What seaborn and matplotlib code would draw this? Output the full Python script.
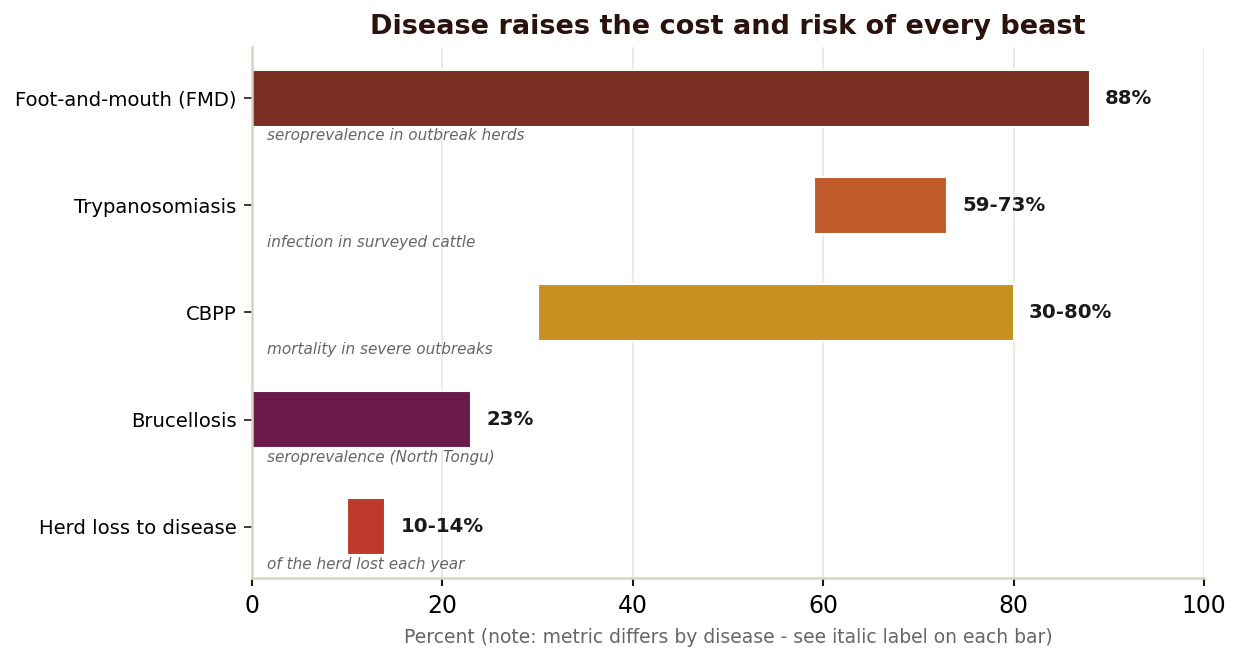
import matplotlib
matplotlib.use("Agg")
import matplotlib.pyplot as plt
import seaborn as sns
import pandas as pd

categories = ["Foot-and-mouth (FMD)", "Trypanosomiasis", "CBPP", "Brucellosis", "Herd loss to disease"]
low = [0, 59, 30, 0, 10]
high = [88, 73, 80, 23, 14]
value_labels = ["88%", "59-73%", "30-80%", "23%", "10-14%"]
notes = ["seroprevalence in outbreak herds", "infection in surveyed cattle",
         "mortality in severe outbreaks", "seroprevalence (North Tongu)",
         "of the herd lost each year"]
colors = ["#7B2E22", "#BF5A2B", "#C89020", "#6A1B4A", "#BE3A2B"]
xticks = [0, 20, 40, 60, 80, 100]

df = pd.DataFrame({"cat": categories, "low": low, "high": high})
df["span"] = df["high"] - df["low"]

sns.set_style("white")
fig = plt.figure(figsize=(8.28, 4.387), dpi=150)
ax = fig.add_axes([0.2029, 0.1216, 0.7665, 0.8070])

sns.barplot(data=df, x="span", y="cat", hue="cat", palette=colors, orient="h",
            width=0.53, legend=False, ax=ax, zorder=2, saturation=1)

for patch, lo in zip(ax.patches, low):
    patch.set_x(lo)

for i, (hi, lab, note) in enumerate(zip(high, value_labels, notes)):
    ax.text(hi + 1.6, i, lab, va="center", ha="left", fontsize=9.5,
            fontweight="bold", color="#1a1a1a")
    ax.text(1.6, i + 0.35, note, va="center", ha="left", fontsize=7.35,
            style="italic", color="#666666")

ax.set_xlim(0, 100)
ax.set_ylim(4.48, -0.48)
ax.set_xticks(xticks)
ax.tick_params(axis="x", labelsize=11.3, length=4, width=1, color="#1a1a1a",
               labelcolor="black", bottom=True)
ax.tick_params(axis="y", labelsize=9.4, length=4, width=0.8, color="#1a1a1a",
               labelcolor="black", left=True)
ax.grid(axis="x", color="#EEE9DD", linewidth=0.9, zorder=0)
ax.set_axisbelow(True)
for s in ["top", "right"]:
    ax.spines[s].set_visible(False)
for s in ["left", "bottom"]:
    ax.spines[s].set_color("#D9D2C3")
    ax.spines[s].set_linewidth(1.2)
ax.set_ylabel("")
ax.set_xlabel("Percent (note: metric differs by disease - see italic label on each bar)",
              fontsize=9, color="#666666", labelpad=5)
ax.set_title("Disease raises the cost and risk of every beast", fontsize=13,
             fontweight="bold", color="#2B120C", pad=6)

fig.savefig("out.png", dpi=150)
